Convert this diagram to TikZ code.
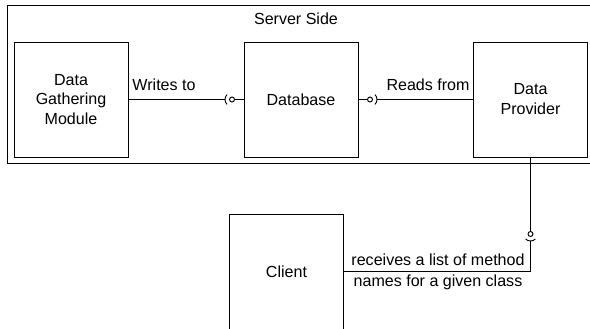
\documentclass[tikz,border=0pt]{standalone}
\usepackage{fontspec}
\setmainfont{Liberation Sans}
\usetikzlibrary{calc}
\usetikzlibrary{positioning}

\begin{document}
\begin{tikzpicture}[x=0.03cm, y=0.03cm, line width=0.8pt,
        mdl/.style={draw, minimum width=3.42cm, minimum height=3.45cm, inner sep=0pt,
            align=center, font=\fontsize{13.7}{17}\selectfont},
        lbl/.style={inner sep=0pt, align=center, font=\fontsize{13.7}{18}\selectfont},
        ball/.style={draw, circle, minimum size=0.15cm, inner sep=0pt}]
            \useasboundingbox (0,0) rectangle (590,328);

            % Server frame
            \draw (7,165) rectangle (600,323);
            \node[lbl] (srv) at (296,309) {Server Side};

            % Modules
            \node[mdl] (dgm) at (71,228.5) {Data\\Gathering\\Module};
            \node[mdl] (db) at (301,228.5) {Database};
            \node[mdl] (dp) at (530.5,228.5) {Data\\Provider};
            \node[mdl] (clnt) at (286.5,56.5) {Client};

            % Balls and sockets
            \node[ball] (wball) at (232,228.5) {};
            \node[ball] (rball) at (370,228.5) {};
            \node[ball] (cball) at (530.5,94) {};
            \coordinate (wsock) at ($(wball)+(-0.21cm,0)$);
            \coordinate (rsock) at ($(rball)+(0.21cm,0)$);
            \coordinate (csock) at ($(cball)+(0,-0.21cm)$);

            % Writes to
            \draw (dgm.east) -- (wsock);
            \draw ($(wball)+(135:0.21cm)$) arc (135:225:0.21cm);
            \draw (wball) -- (db.west);
            \node[lbl] (wlbl) at (164,243) {Writes to};

            % Reads from
            \draw (db.east) -- (rball);
            \draw ($(rball)+(-45:0.21cm)$) arc (-45:45:0.21cm);
            \draw (rsock) -- (dp.west);
            \node[lbl] (rlbl) at (428,243) {Reads from};

            % Client request
            \draw (dp.south) -- (cball);
            \draw ($(cball)+(225:0.21cm)$) arc (225:315:0.21cm);
            \draw (csock) |- (clnt.east);
            \node[lbl] (clbl) at (438,56) {receives a list of method\\names for a given class};
        \end{tikzpicture}
\end{document}
